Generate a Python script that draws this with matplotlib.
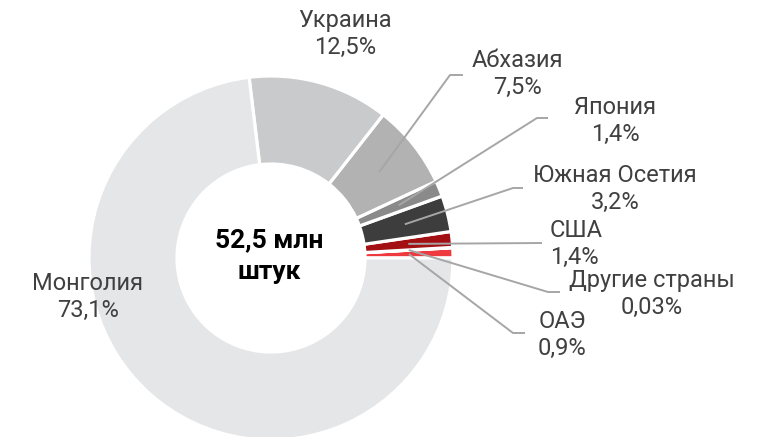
import numpy as np
import matplotlib
matplotlib.use("Agg")
import matplotlib.pyplot as plt

countries = ["ОАЭ", "Другие страны", "США", "Южная Осетия", "Япония", "Абхазия", "Украина", "Монголия"]
shares = [0.9, 0.03, 1.4, 3.2, 1.4, 7.5, 12.5, 73.1]
share_labels = ["0,9%", "0,03%", "1,4%", "3,2%", "1,4%", "7,5%", "12,5%", "73,1%"]
colors = ["#ee3a3f", "#c0282d", "#a31014", "#3d3d3d", "#8a8a8a", "#b1b2b1", "#c9cacb", "#e5e6e7"]
total_label = "52,5 млн\nштук"

W, H = 757, 437
fig = plt.figure(figsize=(W / 100, H / 100), dpi=100)
ax = fig.add_axes([0, 0, 1, 1])

cx, cy = 271, H - 258
R, r_in = 182, 94
wedges, _ = ax.pie(shares, colors=colors, startangle=0, counterclock=True,
                   center=(cx, cy), radius=R,
                   wedgeprops=dict(width=R - r_in, edgecolor="white", linewidth=2.3))
ax.set_xlim(0, W)
ax.set_ylim(0, H)
ax.set_aspect("equal")
ax.axis("off")

font = "Roboto"
txt_color = "#404040"
line_color = "#a6a6a6"

# label placements (text centre in pixels, elbow points in pixels)
layout = {
    "Украина": dict(text=(345, 34), ha="center", elbow=None),
    "Абхазия": dict(text=(517, 74), ha="center", elbow=[(450, 75), (463, 75)]),
    "Япония": dict(text=(615, 121), ha="center", elbow=[(537, 118), (548, 118)]),
    "Южная Осетия": dict(text=(615, 189), ha="center", elbow=[(513, 188), (523, 188)]),
    "США": dict(text=(550, 244), ha="left", elbow=[(542, 243)]),
    "Другие страны": dict(text=(652, 294), ha="center", elbow=[(548, 292), (560, 292)]),
    "ОАЭ": dict(text=(562, 335), ha="center", elbow=[(513, 333), (525, 333)]),
    "Монголия": dict(text=(88, 297), ha="center", elbow=None),
}

for w, name, lab in zip(wedges, countries, share_labels):
    L = layout[name]
    tx, ty = L["text"]
    ax.text(tx, H - ty, f"{name}\n{lab}", ha=L["ha"], va="center", fontsize=17,
            family=font, color=txt_color, linespacing=1.2)
    if L["elbow"] is not None:
        mid = np.deg2rad((w.theta1 + w.theta2) / 2)
        rr = (R + r_in) / 2
        sx, sy = cx + rr * np.cos(mid), cy + rr * np.sin(mid)
        xs = [sx] + [p[0] for p in L["elbow"]]
        ys = [sy] + [H - p[1] for p in L["elbow"]]
        ax.plot(xs, ys, color=line_color, lw=1.4, solid_capstyle="butt")

ax.text(cx - 2, cy + 2, total_label, ha="center", va="center", fontsize=19,
        fontweight="bold", family=font, color="black", linespacing=1.4)

fig.savefig("out.png", dpi=100)
